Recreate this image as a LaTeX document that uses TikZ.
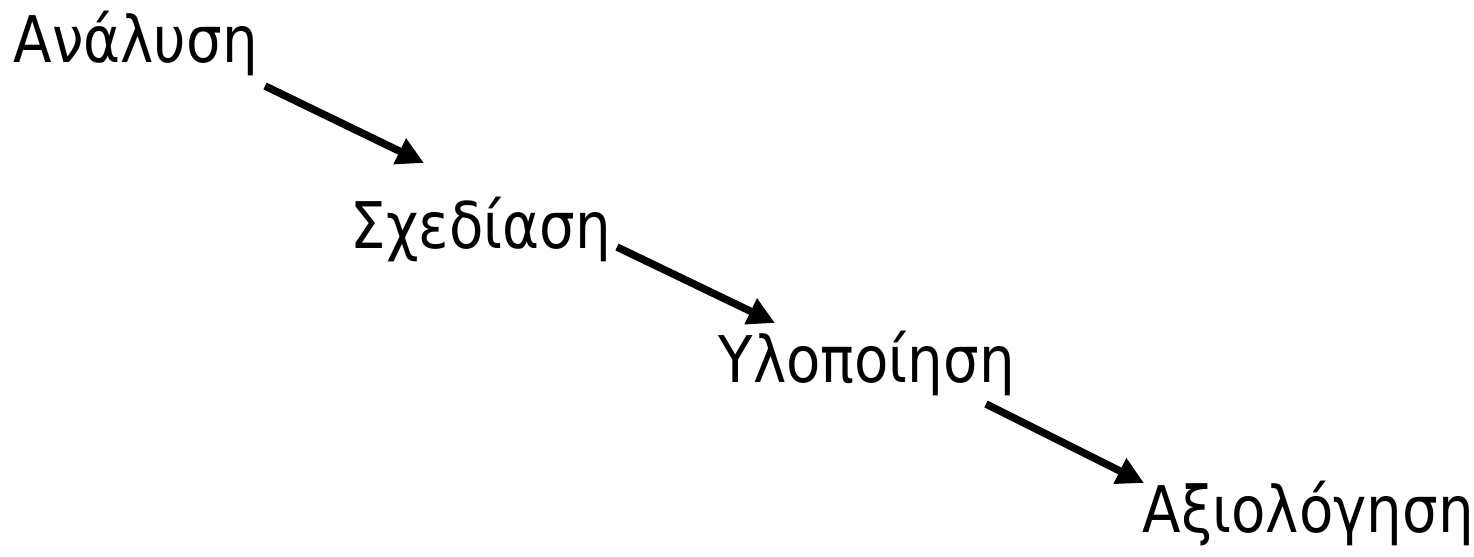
\documentclass[tikz,border=0pt]{standalone}
\usepackage{fontspec}
\setmainfont{DejaVu Sans}[FakeStretch=0.874]
\usetikzlibrary{arrows.meta}

\tikzset{
  stage/.style = {anchor=base west, inner sep=0pt, font=\fontsize{18.3}{22}\selectfont},
  flow/.style  = {line width=0.075cm, -{Triangle[length=0.27cm,width=0.27cm]}}
}

\begin{document}
\begin{tikzpicture}
                \useasboundingbox (0cm,0cm) rectangle (14.74cm,5.56cm);
                \node[stage] (an) at (0.13cm, 4.94cm) {Ανάλυση};
                \node[stage] (sx) at (3.50cm, 3.08cm) {Σχεδίαση};
                \node[stage] (yl) at (7.18cm, 1.74cm) {Υλοποίηση};
                \node[stage] (ax) at (11.42cm, 0.24cm) {Αξιολόγηση};
                \draw[flow] ([shift={(2.52cm,-0.24cm)}]an.base west) -- ([shift={(0.74cm,0.85cm)}]sx.base west);
                \draw[flow] ([shift={(2.67cm,0.01cm)}]sx.base west) -- ([shift={(0.57cm,0.59cm)}]yl.base west);
                \draw[flow] ([shift={(2.68cm,-0.22cm)}]yl.base west) -- ([shift={(0.02cm,0.49cm)}]ax.base west);
            \end{tikzpicture}
\end{document}
